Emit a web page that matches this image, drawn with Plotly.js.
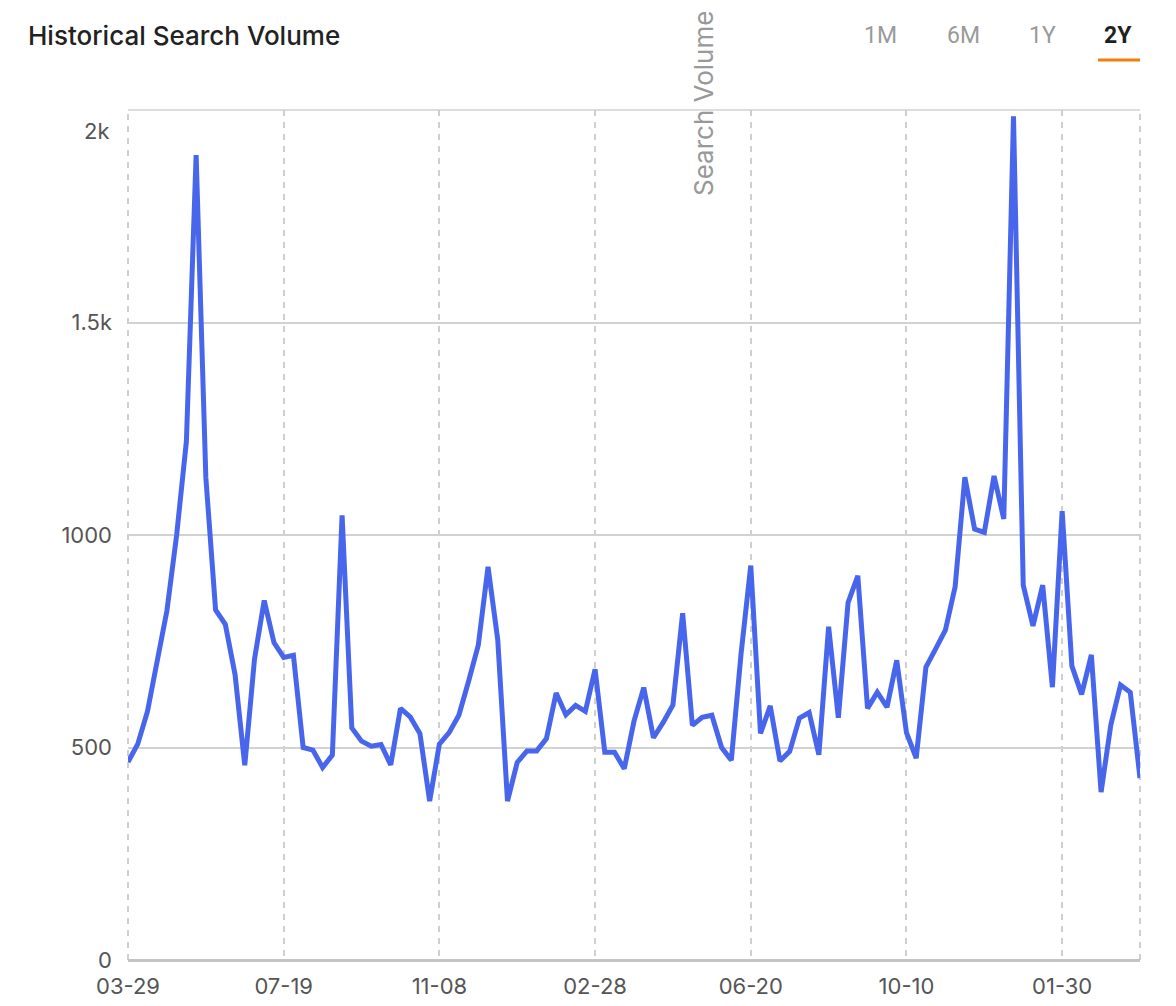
<!DOCTYPE html>
<html>
<head>
<meta charset="utf-8">
<script src="https://cdn.plot.ly/plotly-3.0.1.min.js"></script>
<style>
  html, body { margin: 0; padding: 0; background: #fff; }
  #chart { width: 1176px; height: 1006px; }
</style>
</head>
<body>
<div id="chart"></div>
<script>
// ---- Data ----
const startDate = '2020-03-29';
const tickLabels = ['03-29', '07-19', '11-08', '02-28', '06-20', '10-10', '01-30'];
const searchVolume = [
  466, 508, 585, 702, 822, 1000, 1220, 1894, 1135, 824,
  790, 672, 458, 708, 846, 747, 712, 717, 500, 494,
  453, 482, 1046, 546, 515, 503, 507, 459, 592, 572,
  533, 374, 508, 535, 576, 656, 741, 925, 753, 374,
  465, 492, 492, 521, 628, 577, 599, 585, 684, 489,
  489, 450, 562, 641, 523, 559, 600, 816, 552, 571,
  576, 500, 470, 720, 928, 533, 598, 468, 491, 569,
  582, 483, 784, 570, 841, 904, 592, 630, 595, 705,
  535, 475, 689, 732, 776, 878, 1136, 1014, 1006, 1139,
  1038, 1985, 882, 786, 882, 642, 1056, 692, 625, 718,
  395, 553, 647, 630, 428
];
const yTickVals = [0, 500, 1000, 1500, 2000];
const yTickText = ['0', '500', '1000', '1.5k', ''];
const rangeButtons = ['1M', '6M', '1Y', '2Y'];
const selectedButton = '2Y';

// weekly dates (x categories)
const weeks = [];
{
  const d0 = new Date(startDate + 'T00:00:00Z');
  for (let i = 0; i < searchVolume.length; i++) {
    const d = new Date(d0.getTime() + i * 7 * 86400000);
    weeks.push(d.toISOString().slice(0, 10));
  }
}
const tickDates = tickLabels.map((_, k) => weeks[k * 16]);

// ---- Layout helpers (pixel -> paper) ----
const W = 1176, H = 1006;
const M = { l: 128, r: 36, t: 110, b: 46 };
const PW = W - M.l - M.r, PH = H - M.t - M.b;
const px = x => (x - M.l) / PW;
const py = y => (H - M.b - y) / PH;

const FONT = 'Inter, "Open Sans", sans-serif';

const trace = {
  x: weeks,
  y: searchVolume,
  type: 'scatter',
  mode: 'lines',
  line: { color: '#4866ec', width: 5, shape: 'linear' },
  hoverinfo: 'x+y'
};

const buttonX = [880, 963, 1042, 1118];
const annotations = [
  { text: '2k', xref: 'paper', yref: 'paper', x: px(112), y: py(131), xanchor: 'right', yanchor: 'middle',
    showarrow: false, font: { family: FONT, size: 22, color: '#555' } },
  { text: 'Search Volume', xref: 'paper', yref: 'paper', x: px(704), y: py(104), xanchor: 'center', yanchor: 'middle',
    textangle: -90, showarrow: false, font: { family: FONT, size: 26, color: '#999' } }
];
rangeButtons.forEach((b, i) => {
  const sel = b === selectedButton;
  annotations.push({
    text: sel ? '<b>' + b + '</b>' : b, xref: 'paper', yref: 'paper',
    x: px(buttonX[i]), y: py(35), xanchor: 'center', yanchor: 'middle', showarrow: false,
    font: { family: 'Roboto, "Liberation Sans", sans-serif', size: 23, color: sel ? '#1f1f1f' : '#9a9a9a' }
  });
});

const layout = {
  width: W, height: H,
  margin: M,
  paper_bgcolor: '#fff', plot_bgcolor: '#fff',
  showlegend: false,
  title: {
    text: 'Historical Search Volume',
    font: { family: FONT, size: 26, color: '#222', weight: 500 },
    xref: 'container', yref: 'container', x: 28 / W, xanchor: 'left', y: 1 - 36 / H, yanchor: 'middle'
  },
  xaxis: {
    type: 'date',
    range: [weeks[0], weeks[weeks.length - 1]],
    tickmode: 'array', tickvals: tickDates, ticktext: tickLabels,
    showgrid: true, gridcolor: '#cfcfcf', gridwidth: 2, griddash: '6px,6px',
    zeroline: false, showline: false, ticks: '',
    tickfont: { family: FONT, size: 22, color: '#555' },
    ticklabelstandoff: 11,
    fixedrange: true
  },
  yaxis: {
    range: [0, 2000],
    tickmode: 'array', tickvals: yTickVals, ticktext: yTickText,
    showgrid: true, gridcolor: '#d2d2d2', gridwidth: 1.5,
    zeroline: true, zerolinecolor: '#c4c4c4', zerolinewidth: 3,
    showline: false, ticks: '',
    tickfont: { family: FONT, size: 22, color: '#555' },
    ticklabelstandoff: 15,
    fixedrange: true
  },
  shapes: [
    { type: 'line', xref: 'paper', yref: 'paper', x0: 0, x1: 0, y0: 0, y1: 1,
      line: { color: '#cfcfcf', width: 2, dash: '6px,6px' }, layer: 'below' },
    { type: 'line', xref: 'paper', yref: 'paper', x0: 1, x1: 1, y0: 0, y1: 1,
      line: { color: '#cfcfcf', width: 2, dash: '6px,6px' }, layer: 'below' },
    { type: 'line', xref: 'paper', yref: 'paper', x0: 0, x1: 1, y0: 1, y1: 1,
      line: { color: '#d2d2d2', width: 1.5 }, layer: 'below' },
    { type: 'rect', xref: 'paper', yref: 'paper', x0: px(1098), x1: px(1140), y0: py(61.5), y1: py(58.5),
      fillcolor: '#f07d10', line: { width: 0 } }
  ],
  annotations: annotations
};

Plotly.newPlot('chart', [trace], layout, { displayModeBar: false, staticPlot: false });
</script>
</body>
</html>
